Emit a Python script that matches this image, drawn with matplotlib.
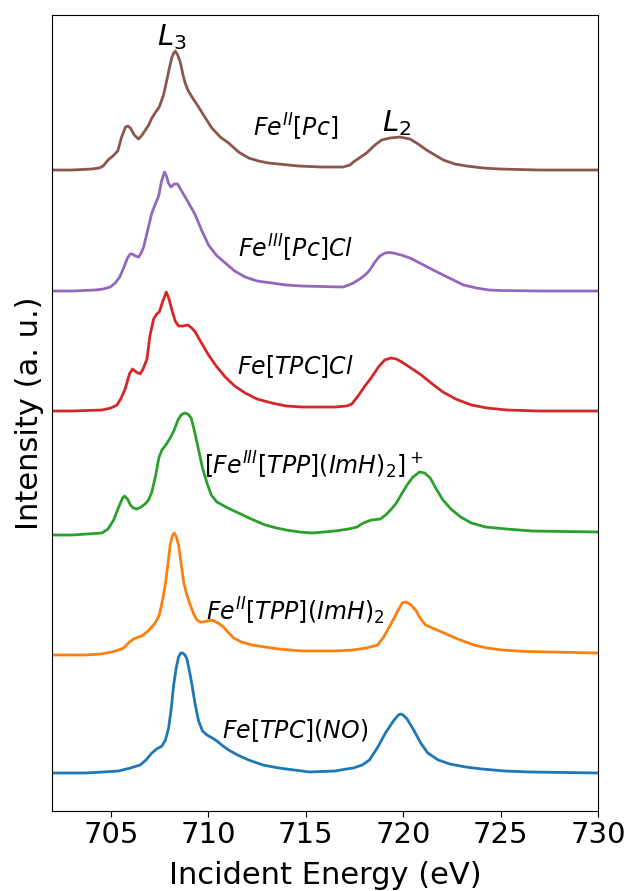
import matplotlib.pyplot as plt

# Fe L-edge spectra (energy in eV, intensity above baseline)
e_tpc_no = [702, 703.68, 704.6, 705.39, 706.0, 706.5, 706.8, 707.1, 707.35, 707.62, 707.8,
            707.96, 708.1, 708.22, 708.35, 708.47, 708.58, 708.68, 708.8, 708.9, 709.03, 709.16,
            709.33, 709.5, 709.7, 709.93, 710.2, 710.44, 710.75, 711.04, 711.5, 712.07, 712.8,
            713.61, 714.8, 715.17, 716.5, 717.1, 717.44, 717.9, 718.27, 718.7, 719.09, 719.5,
            719.75, 719.87, 720.0, 720.2, 720.54, 720.9, 721.26, 721.8, 722.39, 723.2, 724.04,
            725.2, 726.5, 730]
i_tpc_no = [0, 0, 0.01, 0.02, 0.05, 0.08, 0.13, 0.20, 0.24, 0.27, 0.33,
            0.45, 0.65, 0.88, 1.05, 1.16, 1.20, 1.20, 1.18, 1.14, 1.02, 0.88,
            0.68, 0.52, 0.42, 0.38, 0.35, 0.32, 0.27, 0.23, 0.18, 0.13, 0.08,
            0.05, 0.02, 0.01, 0.02, 0.04, 0.05, 0.08, 0.13, 0.26, 0.40, 0.52,
            0.58, 0.59, 0.58, 0.54, 0.43, 0.30, 0.20, 0.13, 0.09, 0.06, 0.04,
            0.02, 0.01, 0]

e_tpp_ii = [702, 703.68, 704.5, 705.05, 705.4, 705.65, 705.95, 706.16, 706.4, 706.59, 706.85,
            707.1, 707.3, 707.48, 707.6, 707.79, 707.92, 708.04, 708.15, 708.25, 708.36, 708.47,
            708.6, 708.73, 708.9, 709.07, 709.25, 709.41, 709.6, 709.76, 709.95, 710.18, 710.5,
            710.78, 711.05, 711.3, 711.7, 712.24, 712.9, 713.61, 714.8, 716.5, 717.44, 718.1,
            718.68, 719.0, 719.4, 719.75, 719.95, 720.12, 720.35, 720.64, 720.9, 721.15, 721.5,
            721.98, 722.8, 723.63, 724.3, 725.07, 726.3, 727.5, 730]
i_tpp_ii = [0, 0, 0.01, 0.03, 0.05, 0.07, 0.13, 0.16, 0.18, 0.19, 0.23,
            0.28, 0.33, 0.40, 0.50, 0.70, 0.90, 1.10, 1.19, 1.22, 1.18, 1.10,
            0.92, 0.73, 0.60, 0.50, 0.41, 0.35, 0.33, 0.33, 0.34, 0.35, 0.32,
            0.28, 0.22, 0.17, 0.13, 0.10, 0.08, 0.06, 0.04, 0.04, 0.05, 0.07,
            0.10, 0.18, 0.32, 0.45, 0.52, 0.53, 0.51, 0.45, 0.36, 0.30, 0.27,
            0.23, 0.16, 0.10, 0.07, 0.05, 0.035, 0.03, 0.02]

e_tpp_iii = [702, 703, 704.54, 704.85, 705.14, 705.4, 705.6, 705.7, 705.85, 706.0, 706.15,
             706.33, 706.55, 706.75, 706.93, 707.1, 707.3, 707.47, 707.62, 707.85, 708.04, 708.25,
             708.44, 708.6, 708.78, 708.95, 709.12, 709.3, 709.5, 709.7, 709.93, 710.15, 710.44,
             711.0, 711.55, 712.2, 712.92, 713.5, 714.0, 714.7, 715.34, 716.5, 717.2, 717.63,
             717.95, 718.37, 718.83, 719.1, 719.4, 719.65, 719.95, 720.2, 720.5, 720.84, 721.1,
             721.39, 721.7, 722.04, 722.45, 722.95, 723.5, 724.23, 725.3, 726.61, 730]
i_tpp_iii = [0, 0, 0.02, 0.06, 0.15, 0.28, 0.37, 0.39, 0.36, 0.30, 0.27,
             0.26, 0.28, 0.31, 0.35, 0.43, 0.60, 0.78, 0.85, 0.91, 0.97, 1.05,
             1.15, 1.20, 1.22, 1.21, 1.17, 1.03, 0.85, 0.67, 0.52, 0.40, 0.33,
             0.27, 0.22, 0.16, 0.10, 0.07, 0.05, 0.03, 0.02, 0.04, 0.06, 0.08,
             0.12, 0.15, 0.16, 0.20, 0.26, 0.32, 0.42, 0.50, 0.58, 0.63, 0.62,
             0.57, 0.46, 0.35, 0.26, 0.18, 0.12, 0.08, 0.06, 0.04, 0.03]

e_tpc_cl = [702, 703, 704.54, 705.0, 705.31, 705.5, 705.73, 705.95, 706.11, 706.3, 706.5,
            706.65, 706.85, 707.0, 707.19, 707.35, 707.48, 707.65, 707.84, 707.98, 708.13, 708.3,
            708.47, 708.7, 708.95, 709.15, 709.33, 709.65, 710.01, 710.4, 710.87, 711.35, 711.89,
            712.5, 713.26, 714.0, 714.8, 716.5, 717.1, 717.36, 717.65, 718.0, 718.35, 718.73,
            719.05, 719.37, 719.65, 719.93, 720.4, 720.93, 721.5, 722.04, 722.7, 723.5, 724.3,
            725.33, 727, 730]
i_tpc_cl = [0, 0, 0.01, 0.03, 0.06, 0.12, 0.22, 0.37, 0.42, 0.39, 0.37,
            0.42, 0.52, 0.75, 0.92, 0.97, 0.99, 1.09, 1.19, 1.12, 1.01, 0.90,
            0.85, 0.85, 0.86, 0.83, 0.79, 0.68, 0.56, 0.45, 0.34, 0.25, 0.18,
            0.12, 0.08, 0.05, 0.04, 0.04, 0.05, 0.07, 0.14, 0.24, 0.33, 0.44,
            0.51, 0.53, 0.52, 0.49, 0.43, 0.36, 0.27, 0.19, 0.12, 0.06, 0.03,
            0.01, 0, 0]

e_pc_cl = [702, 703, 704.19, 704.6, 704.97, 705.22, 705.45, 705.65, 705.85, 705.99, 706.1,
           706.25, 706.42, 706.55, 706.68, 706.9, 707.1, 707.3, 707.45, 707.6, 707.75, 707.85,
           707.95, 708.08, 708.25, 708.42, 708.6, 708.81, 709.05, 709.33, 709.65, 710.01, 710.4,
           710.87, 711.35, 711.89, 712.5, 713.26, 714.0, 714.8, 715.8, 716.92, 717.2, 717.44,
           717.85, 718.1, 718.29, 718.55, 718.8, 719.07, 719.3, 719.49, 719.9, 720.35, 720.95,
           721.54, 722.05, 722.57, 723.1, 723.77, 724.4, 724.97, 727, 730]
i_pc_cl = [0, 0, 0.01, 0.02, 0.04, 0.08, 0.14, 0.23, 0.33, 0.37, 0.37,
           0.35, 0.34, 0.38, 0.44, 0.62, 0.78, 0.88, 0.95, 1.10, 1.19, 1.15,
           1.08, 1.04, 1.07, 1.07, 1.01, 0.94, 0.86, 0.76, 0.61, 0.46, 0.36,
           0.28, 0.20, 0.14, 0.10, 0.08, 0.06, 0.05, 0.045, 0.04, 0.06, 0.08,
           0.13, 0.17, 0.21, 0.29, 0.35, 0.38, 0.385, 0.38, 0.36, 0.33, 0.27,
           0.21, 0.16, 0.11, 0.06, 0.03, 0.01, 0.005, 0, 0]

e_pc = [702, 703, 704.0, 704.4, 704.6, 704.85, 705.1, 705.35, 705.55, 705.75, 705.87,
        706.0, 706.2, 706.42, 706.6, 706.94, 707.1, 707.3, 707.48, 707.7, 707.87, 708.0,
        708.12, 708.22, 708.3, 708.4, 708.56, 708.7, 708.81, 708.95, 709.16, 709.5, 709.85,
        710.18, 710.61, 711.04, 711.55, 712.07, 712.58, 713.09, 713.61, 714.63, 715.8, 716.92,
        717.27, 717.44, 718.12, 718.55, 718.89, 719.32, 719.83, 720.35, 720.77, 721.2, 721.63,
        722.06, 722.66, 723.26, 724.11, 724.97, 727, 730]
i_pc = [0, 0, 0.01, 0.02, 0.04, 0.10, 0.14, 0.19, 0.33, 0.43, 0.44,
        0.42, 0.35, 0.31, 0.35, 0.45, 0.52, 0.58, 0.63, 0.75, 0.90, 1.02,
        1.12, 1.17, 1.19, 1.16, 1.08, 0.95, 0.87, 0.80, 0.73, 0.63, 0.52,
        0.42, 0.33, 0.27, 0.18, 0.12, 0.09, 0.07, 0.06, 0.04, 0.03, 0.03,
        0.05, 0.08, 0.17, 0.25, 0.30, 0.32, 0.33, 0.31, 0.26, 0.20, 0.15,
        0.10, 0.06, 0.04, 0.02, 0.01, 0.0, 0.0]

energies = [e_tpc_no, e_tpp_ii, e_tpp_iii, e_tpc_cl, e_pc_cl, e_pc]
intensities = [i_tpc_no, i_tpp_ii, i_tpp_iii, i_tpc_cl, i_pc_cl, i_pc]
offsets = [0.38, 1.56, 2.76, 4.00, 5.20, 6.41]

labels = [r"$Fe[TPC](NO)$", r"$Fe^{II}[TPP](ImH)_2$", r"$[Fe^{III}[TPP](ImH)_2]^+$",
          r"$Fe[TPC]Cl$", r"$Fe^{III}[Pc]Cl$", r"$Fe^{II}[Pc]$"]
label_x = [714.45, 714.45, 715.4, 714.45, 714.5, 714.5]
label_y = [0.80, 2.00, 3.46, 4.44, 5.63, 6.84]

fig = plt.figure(figsize=(6.3, 8.91), dpi=100)
ax = fig.add_axes([0.0833, 0.0898, 0.8659, 0.8939])

for i in range(len(energies)):
    y = [v + offsets[i] for v in intensities[i]]
    ax.plot(energies[i], y, color=f"C{i}", linewidth=2)
    ax.text(label_x[i], label_y[i], labels[i], ha="center", va="center", fontsize=17)

# edge labels
ax.text(708.14, 7.74, r"$L_3$", ha="center", va="center", fontsize=21)
ax.text(719.68, 6.88, r"$L_2$", ha="center", va="center", fontsize=21)

ax.set_xlim(702, 730)
ax.set_ylim(0, 7.965)
ax.set_xticks([705, 710, 715, 720, 725, 730])
ax.set_yticks([])
ax.tick_params(axis="x", labelsize=21, length=4)
ax.set_xlabel("Incident Energy (eV)", fontsize=22, labelpad=8)
ax.set_ylabel("Intensity (a. u.)", fontsize=22, labelpad=6)

plt.savefig("out.png", dpi=100)
